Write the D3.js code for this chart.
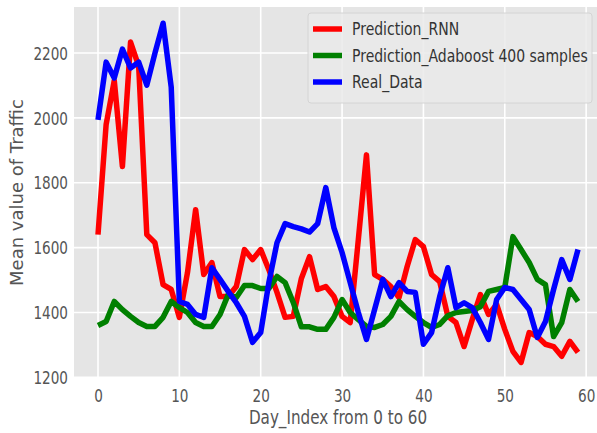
<!DOCTYPE html>
<html lang="en">
<head>
    <meta charset="UTF-8">
    <title>Traffic prediction</title>
    <script src="https://cdn.jsdelivr.net/npm/d3@7/dist/d3.min.js"></script>
    <style>
        body { margin: 0; background: #fff; }
    </style>
</head>
<body>
    <div id="container"></div>
    <script>
        const width = 597;
        const height = 433;

        const days = d3.range(0, 60);
        const xTicks = [0, 10, 20, 30, 40, 50, 60];
        const yTicks = [1200, 1400, 1600, 1800, 2000, 2200];

        const rnn = [1640, 1980, 2115, 1850, 2234, 2160, 1640, 1615, 1486, 1471,
            1385, 1523, 1717, 1517, 1554, 1449, 1449, 1480, 1594, 1563,
            1594, 1532, 1462, 1385, 1388, 1505, 1572, 1471, 1480, 1449,
            1388, 1369, 1625, 1886, 1517, 1502, 1480, 1446, 1542, 1625,
            1603, 1517, 1495, 1388, 1369, 1295, 1378, 1455, 1394, 1425,
            1348, 1280, 1246, 1338, 1326, 1302, 1295, 1265, 1311, 1277];

        const adaboost = [1360, 1372, 1434, 1409, 1388, 1369, 1357, 1357, 1385, 1434,
            1415, 1400, 1369, 1357, 1357, 1394, 1455, 1446, 1483, 1483,
            1474, 1474, 1511, 1492, 1431, 1356, 1356, 1348, 1348, 1385,
            1440, 1400, 1378, 1357, 1354, 1363, 1388, 1434, 1409, 1388,
            1369, 1354, 1363, 1390, 1400, 1403, 1406, 1418, 1465, 1471,
            1477, 1634, 1594, 1554, 1502, 1486, 1326, 1369, 1471, 1434];

        const real = [1994, 2172, 2123, 2212, 2154, 2172, 2101, 2200, 2292, 2095,
            1434, 1425, 1394, 1385, 1538, 1502, 1465, 1430, 1388, 1308,
            1338, 1492, 1615, 1674, 1665, 1658, 1648, 1674, 1785, 1661,
            1585, 1492, 1400, 1317, 1409, 1502, 1449, 1492, 1465, 1462,
            1302, 1338, 1449, 1538, 1415, 1430, 1415, 1369, 1317, 1440,
            1477, 1471, 1440, 1409, 1323, 1372, 1471, 1563, 1502, 1594];

        const series = [
            { name: 'Prediction_RNN', values: rnn, color: '#ff0000' },
            { name: 'Prediction_Adaboost 400 samples', values: adaboost, color: '#008000' },
            { name: 'Real_Data', values: real, color: '#0000ff' }
        ];

        // the picture is a bit squeezed sideways, so text is squeezed too
        const sx = 0.8;
        const font = '"DejaVu Sans", sans-serif';
        const textColor = '#555';

        const plot = { left: 74, right: 602, top: 7, bottom: 378 };

        const x = d3.scaleLinear().domain([-2.95, 61.95]).range([plot.left, plot.right]);
        const y = d3.scaleLinear().domain([1198, 2342]).range([plot.bottom, plot.top]);

        const svg = d3.select('#container').append('svg')
            .attr('width', width)
            .attr('height', height);

        svg.append('rect')
            .attr('x', plot.left).attr('y', plot.top)
            .attr('width', plot.right - plot.left).attr('height', plot.bottom - plot.top)
            .attr('fill', '#e5e5e5');

        // grid
        svg.append('g').selectAll('line')
            .data(xTicks)
            .join('line')
            .attr('x1', d => x(d)).attr('x2', d => x(d))
            .attr('y1', plot.top).attr('y2', plot.bottom)
            .attr('stroke', '#fff').attr('stroke-width', 1.6);
        svg.append('g').selectAll('line')
            .data(yTicks)
            .join('line')
            .attr('x1', plot.left).attr('x2', plot.right)
            .attr('y1', d => y(d)).attr('y2', d => y(d))
            .attr('stroke', '#fff').attr('stroke-width', 1.6);

        // axes
        const xAxis = svg.append('g')
            .attr('transform', `translate(0,${plot.bottom})`)
            .call(d3.axisBottom(x).tickValues(xTicks).tickFormat(d3.format('d')).tickSize(0).tickPadding(0));
        xAxis.select('.domain').remove();
        xAxis.selectAll('text')
            .attr('y', 24)
            .attr('dy', 0)
            .attr('transform', `scale(${sx},1)`)
            .attr('font-family', font)
            .attr('font-size', 17)
            .attr('fill', textColor);

        const yAxis = svg.append('g')
            .attr('transform', `translate(${plot.left},0)`)
            .call(d3.axisLeft(y).tickValues(yTicks).tickFormat(d3.format('d')).tickSize(0).tickPadding(0));
        yAxis.select('.domain').remove();
        yAxis.selectAll('text')
            .attr('x', -6 / sx)
            .attr('dy', '0.36em')
            .attr('transform', `scale(${sx},1)`)
            .attr('font-family', font)
            .attr('font-size', 17)
            .attr('fill', textColor);

        svg.append('text')
            .attr('transform', `translate(${(plot.left + plot.right) / 2},424) scale(${sx},1)`)
            .attr('text-anchor', 'middle')
            .attr('font-family', font)
            .attr('font-size', 19)
            .attr('fill', textColor)
            .text('Day_Index from 0 to 60');

        svg.append('text')
            .attr('transform', `translate(23,${(plot.top + plot.bottom) / 2}) rotate(-90)`)
            .attr('text-anchor', 'middle')
            .attr('font-family', font)
            .attr('font-size', 18)
            .attr('fill', textColor)
            .text('Mean value of Traffic');

        // lines
        const line = d3.line()
            .x((d, i) => x(days[i]))
            .y(d => y(d));

        svg.append('g')
            .selectAll('path')
            .data(series)
            .join('path')
            .attr('d', d => line(d.values))
            .attr('fill', 'none')
            .attr('stroke', d => d.color)
            .attr('stroke-width', 5.5)
            .attr('stroke-linejoin', 'round');

        // legend
        const legend = svg.append('g');
        legend.append('rect')
            .attr('x', 308).attr('y', 13)
            .attr('width', 284).attr('height', 90)
            .attr('rx', 3)
            .attr('fill', '#eaeaea')
            .attr('fill-opacity', 0.85)
            .attr('stroke', '#d4d4d4');

        const items = legend.selectAll('g.item')
            .data(series)
            .join('g')
            .attr('class', 'item')
            .attr('transform', (d, i) => `translate(313,${29 + i * 26.5})`);
        items.append('line')
            .attr('x1', 0).attr('x2', 29)
            .attr('stroke', d => d.color)
            .attr('stroke-width', 5.5);
        items.append('text')
            .attr('transform', `translate(39,0) scale(${sx},1)`)
            .attr('dy', '0.36em')
            .attr('font-family', font)
            .attr('font-size', 17.5)
            .attr('fill', '#333')
            .text(d => d.name);
    </script>
</body>
</html>
